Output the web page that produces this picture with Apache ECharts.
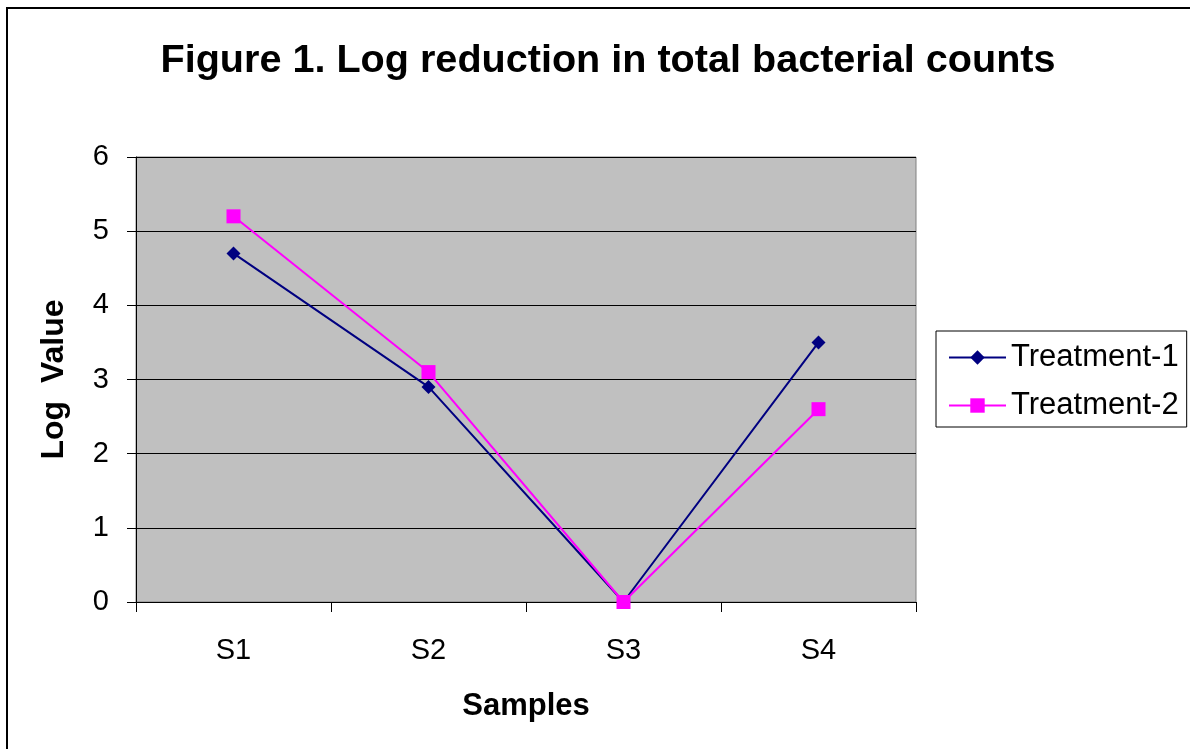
<!DOCTYPE html>
<html>
<head>
<meta charset="utf-8">
<script src="https://cdn.jsdelivr.net/npm/echarts@6/dist/echarts.min.js"></script>
<style>html,body{margin:0;padding:0;background:#fff;}#c{width:1190px;height:749px;}</style>
</head>
<body>
<div id="c"></div>
<script>
const categories = ['S1', 'S2', 'S3', 'S4'];
const treatment1 = [4.7, 2.9, 0, 3.5];
const treatment2 = [5.2, 3.1, 0, 2.6];
const seriesNames = ['Treatment-1', 'Treatment-2'];

const chart = echarts.init(document.getElementById('c'));
const font = 'Liberation Sans, Arial, sans-serif';
chart.setOption({
  backgroundColor: '#fff',
  animation: false,
  title: {
    text: 'Figure 1. Log reduction in total bacterial counts',
    left: 603, textAlign: 'center', top: 36,
    textStyle: { fontFamily: font, fontSize: 39.6, fontWeight: 'bold', color: '#000' }
  },
  graphic: [{
    type: 'rect', z: -10,
    shape: { x: 7, y: 8, width: 1220, height: 800 },
    style: { fill: 'none', stroke: '#000', lineWidth: 2 }
  }],
  legend: {
    orient: 'vertical', left: 936, top: 331,
    padding: [11, 8, 6, 12], itemGap: 17,
    borderColor: '#000', borderWidth: 1,
    itemWidth: 57, itemHeight: 18,
    textStyle: { fontFamily: font, fontSize: 31, color: '#000' },
    data: seriesNames
  },
  grid: {
    left: 136, top: 157, right: 274, bottom: 147,
    show: true, backgroundColor: '#C0C0C0', borderColor: '#808080', borderWidth: 1,
    containLabel: false
  },
  xAxis: {
    type: 'category', data: categories, boundaryGap: true,
    name: 'Samples', nameLocation: 'middle', nameGap: 89,
    nameTextStyle: { fontFamily: font, fontSize: 31, fontWeight: 'bold', color: '#000' },
    axisLine: { show: true, lineStyle: { color: '#000', width: 1 } },
    axisTick: { show: true, length: 10, lineStyle: { color: '#000' } },
    axisLabel: { fontFamily: font, fontSize: 29, color: '#000', margin: 34 },
    splitLine: { show: false }
  },
  yAxis: {
    type: 'value', min: 0, max: 6, interval: 1,
    name: 'Log  Value', nameLocation: 'middle', nameGap: 66, nameRotate: 90,
    nameTextStyle: { fontFamily: font, fontSize: 32, fontWeight: 'bold', color: '#000' },
    axisLine: { show: true, lineStyle: { color: '#000', width: 1 } },
    axisTick: { show: true, length: 9, lineStyle: { color: '#000' } },
    axisLabel: { fontFamily: font, fontSize: 29, color: '#000', margin: 27 },
    splitLine: { show: true, lineStyle: { color: '#000', width: 1 } }
  },
  series: [
    {
      name: seriesNames[0], type: 'line', data: treatment1,
      symbol: 'diamond', symbolSize: 14,
      lineStyle: { color: '#000080', width: 2 },
      itemStyle: { color: '#000080' }
    },
    {
      name: seriesNames[1], type: 'line', data: treatment2,
      symbol: 'rect', symbolSize: 14,
      lineStyle: { color: '#FF00FF', width: 2 },
      itemStyle: { color: '#FF00FF' }
    }
  ]
});
</script>
</body>
</html>
